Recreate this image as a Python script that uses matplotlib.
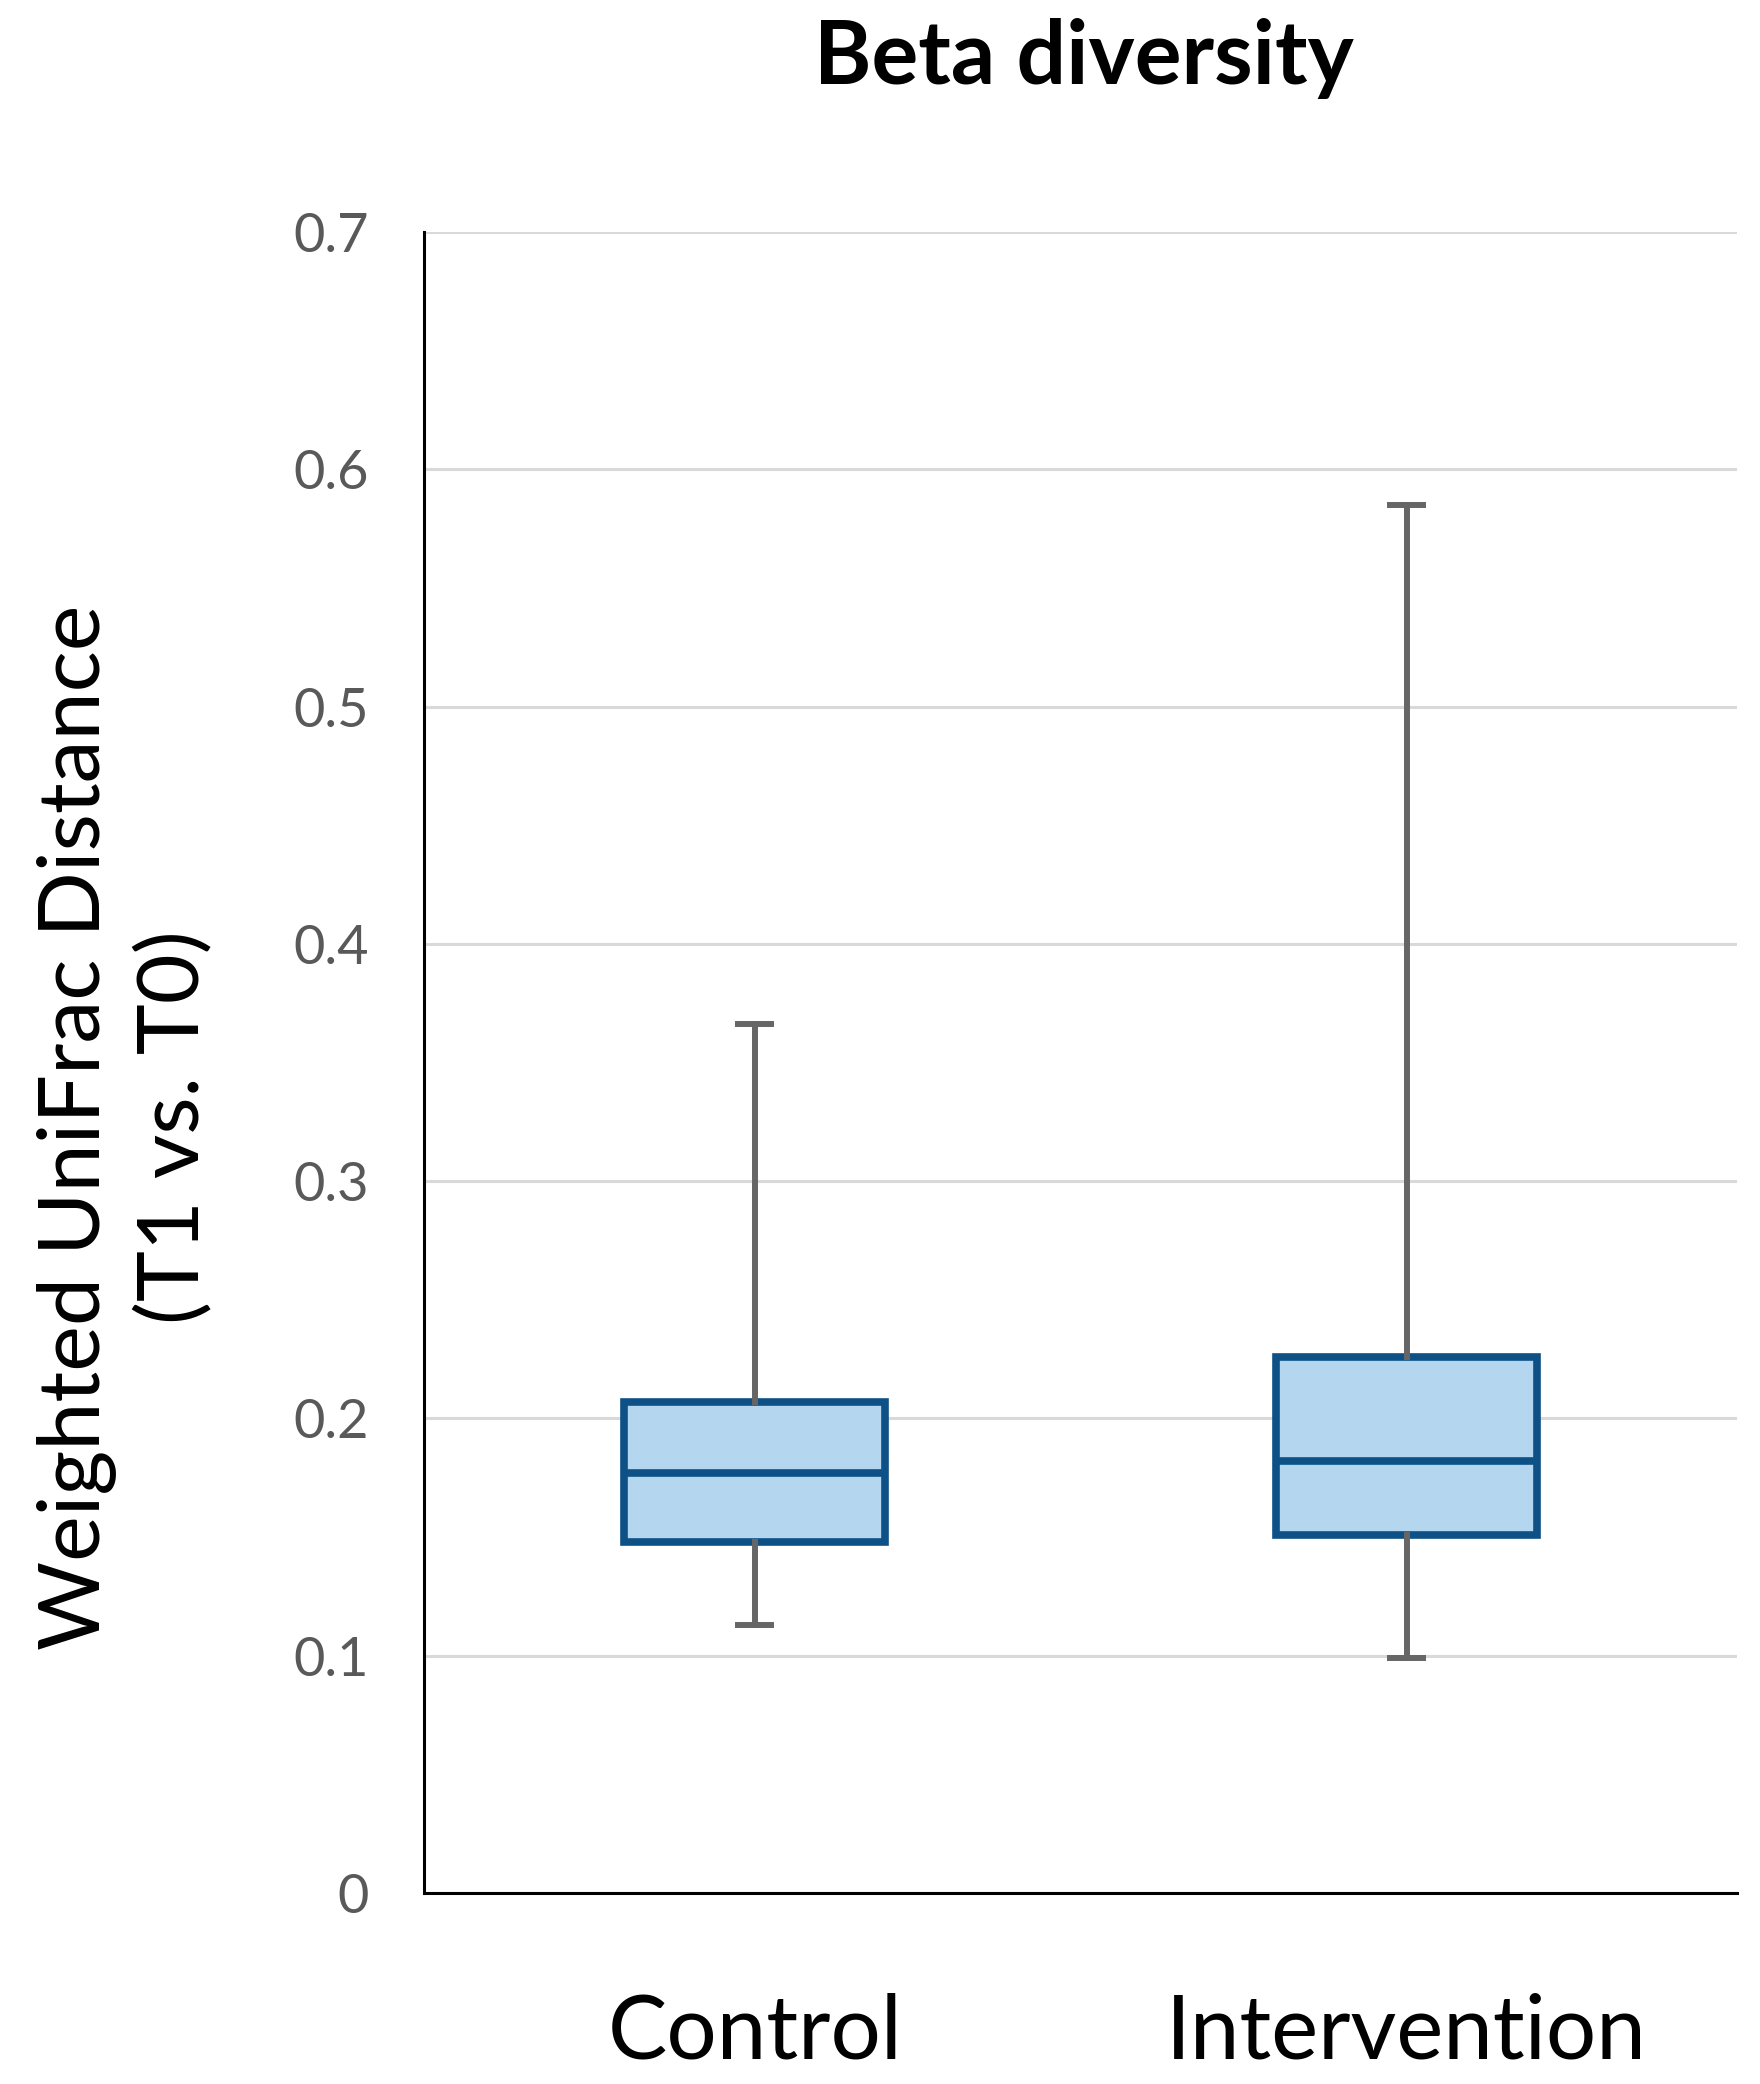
import matplotlib
matplotlib.use("Agg")
import matplotlib.pyplot as plt

plt.rcParams['font.family'] = ['Lato', 'DejaVu Sans']

# data (box stats)
groups = ['Control', 'Intervention']
whisker_low = [0.113, 0.099]
q1 = [0.148, 0.151]
median = [0.177, 0.182]
q3 = [0.207, 0.226]
whisker_high = [0.366, 0.585]
yticks = [0, 0.1, 0.2, 0.3, 0.4, 0.5, 0.6, 0.7]
ytick_labels = ['0', '0.1', '0.2', '0.3', '0.4', '0.5', '0.6', '0.7']

stats = []
for i, g in enumerate(groups):
    stats.append({'label': g, 'whislo': whisker_low[i], 'q1': q1[i], 'med': median[i],
                  'q3': q3[i], 'whishi': whisker_high[i], 'fliers': []})

fig = plt.figure(figsize=(17.6, 20.84), dpi=100)
ax = fig.add_axes([0.241, 0.0917, 0.746, 0.797])

box_edge = '#0E5186'
ax.bxp(stats, positions=[0, 1], widths=0.40, patch_artist=True, showfliers=False,
       boxprops=dict(facecolor='#B4D7EF', edgecolor=box_edge, linewidth=5.5),
       medianprops=dict(color=box_edge, linewidth=5.5),
       whiskerprops=dict(color='#666666', linewidth=4.3),
       capprops=dict(color='#666666', linewidth=4.3),
       capwidths=0.05, zorder=3)

ax.set_xlim(-0.507, 1.507)
ax.set_ylim(0, 0.7)
ax.set_yticks(yticks)
ax.set_yticklabels(ytick_labels)
ax.yaxis.grid(True, color='#D9D9D9', linewidth=2.2, zorder=0)
ax.set_axisbelow(True)

for s in ['top', 'right']:
    ax.spines[s].set_visible(False)
ax.spines['left'].set_linewidth(2.2)
ax.spines['bottom'].set_linewidth(2.2)
ax.tick_params(axis='y', length=0, pad=40, labelsize=39, labelcolor='#595959')
ax.tick_params(axis='x', length=0, pad=72, labelsize=64, labelcolor='black')
ax.set_xticks([0, 1])
ax.set_xticklabels(groups)

fig.text(0.616, 0.972, 'Beta diversity', ha='center', va='center',
         fontsize=63, fontweight='bold')
fig.text(0.071, 0.459, 'Weighted UniFrac Distance\n(T1 vs. T0)', ha='center', va='center',
         rotation=90, fontsize=62, linespacing=1.3)

fig.savefig('out.png', dpi=100)
